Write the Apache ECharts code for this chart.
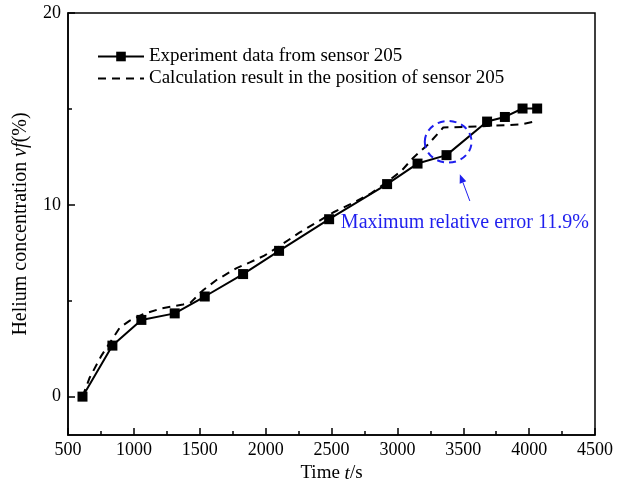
<!DOCTYPE html>
<html>
<head>
<meta charset="utf-8">
<script src="https://cdn.jsdelivr.net/npm/echarts@6/dist/echarts.min.js"></script>
<style>
html,body{margin:0;padding:0;background:#fff;}
#chart{width:617px;height:488px;}
</style>
</head>
<body>
<div id="chart"></div>
<script>
// ---- data ----
var expName = 'Experiment data from sensor 205';
var calcName = 'Calculation result in the position of sensor 205';
var expT = [610, 837, 1057, 1310, 1538, 1829, 2102, 2482, 2922, 3153, 3373, 3681, 3816, 3950, 4061];
var expV = [0, 2.66, 4.0, 4.34, 5.22, 6.39, 7.6, 9.25, 11.08, 12.15, 12.59, 14.34, 14.58, 15.02, 15.02];
var calcT = [610, 665, 754, 893, 969, 1070, 1209, 1373, 1430, 1525, 1627, 1780, 1880, 1990, 2107, 2259, 2386, 2512, 2664, 2800, 2922, 3031, 3121, 3235, 3348, 3499, 3650, 3816, 3943, 4050];
var calcV = [0, 1.0, 2.14, 3.6, 3.96, 4.3, 4.6, 4.8, 4.9, 5.55, 6.08, 6.7, 7.0, 7.35, 7.86, 8.56, 9.08, 9.6, 10.1, 10.6, 11.2, 11.77, 12.46, 13.16, 14.03, 14.06, 14.1, 14.15, 14.2, 14.35];
var yMajorTicks = [0, 10, 20];
var yMinorTicks = [5, 15];
var annotationText = 'Maximum relative error 11.9%';
// annotation anchors in data space
var ellipseBox = {t0: 3208, t1: 3563, v0: 12.2, v1: 14.37};
var arrowTail = [3550, 10.2];
var arrowHead = [3474, 11.6];
var textAnchor = [2571, 9.06];

function zip(a, b) { return a.map(function (x, i) { return [x, b[i]]; }); }
function plain(v) { return String(v); }

var FONT = 'Liberation Serif';
var chart = echarts.init(document.getElementById('chart'), null, {renderer: 'canvas'});
var option = {
  backgroundColor: '#fff',
  animation: false,
  textStyle: {fontFamily: FONT, color: '#000'},
  grid: {left: 68, right: 22, top: 13, bottom: 53, show: true, borderColor: '#000', borderWidth: 1.5, containLabel: false},
  legend: {
    left: 97, top: 47, padding: 0, orient: 'vertical', itemGap: 3,
    itemWidth: 46, itemHeight: 12,
    textStyle: {fontFamily: FONT, fontSize: 19, color: '#000'},
    data: [expName, {name: calcName, itemStyle: {opacity: 0}}]
  },
  xAxis: {
    type: 'value', min: 500, max: 4500, interval: 500,
    name: '{n|Time }{i|t}{n|/s}', nameLocation: 'middle', nameGap: 29,
    nameTextStyle: {rich: {n: {fontFamily: FONT, fontSize: 19, color: '#000'}, i: {fontFamily: FONT, fontSize: 19, fontStyle: 'italic', color: '#000'}}},
    axisLine: {onZero: false, lineStyle: {color: '#000', width: 1.5}},
    axisTick: {inside: true, length: 7, lineStyle: {color: '#000', width: 1.5}},
    minorTick: {show: true, splitNumber: 2, length: 4, lineStyle: {color: '#000', width: 1.5}},
    axisLabel: {fontFamily: FONT, fontSize: 18, color: '#000', margin: 6, formatter: plain},
    splitLine: {show: false}
  },
  yAxis: [{
    type: 'value', min: -2, max: 20,
    name: '{n|Helium concentration }{i|vf}{n|(%)}', nameLocation: 'middle', nameGap: 37,
    nameTextStyle: {rich: {n: {fontFamily: FONT, fontSize: 20, color: '#000'}, i: {fontFamily: FONT, fontSize: 20, fontStyle: 'italic', color: '#000'}}},
    axisLine: {onZero: false, lineStyle: {color: '#000', width: 1.5}},
    axisTick: {inside: true, length: 7, customValues: yMajorTicks, lineStyle: {color: '#000', width: 1.5}},
    axisLabel: {fontFamily: FONT, fontSize: 18, color: '#000', margin: 7, customValues: yMajorTicks, formatter: plain},
    splitLine: {show: false}
  }, {
    type: 'value', min: -2, max: 20, position: 'left',
    axisLine: {show: false, onZero: false},
    axisTick: {show: true, inside: true, length: 4, customValues: yMinorTicks, lineStyle: {color: '#000', width: 1.5}},
    axisLabel: {show: false},
    splitLine: {show: false}
  }],
  series: [{
    name: calcName, type: 'line', yAxisIndex: 0, data: zip(calcT, calcV),
    symbol: 'none', lineStyle: {color: '#000', width: 2, type: [8, 6]}, itemStyle: {color: '#000'}, z: 2
  }, {
    name: expName, type: 'line', yAxisIndex: 0, data: zip(expT, expV),
    symbol: 'rect', symbolSize: 10, showSymbol: true,
    lineStyle: {color: '#000', width: 2}, itemStyle: {color: '#000'}, z: 3
  }]
};
chart.setOption(option);

function px(p) { return chart.convertToPixel({gridIndex: 0}, p); }
var blue = '#1f1fee';
var a = px([ellipseBox.t0, ellipseBox.v1]);
var b = px([ellipseBox.t1, ellipseBox.v0]);
var tail = px(arrowTail), head = px(arrowHead);
var dx = head[0] - tail[0], dy = head[1] - tail[1];
var len = Math.sqrt(dx * dx + dy * dy), ux = dx / len, uy = dy / len;
var hl = 9, hw = 3.5;
var base = [head[0] - ux * hl, head[1] - uy * hl];
var tp = px(textAnchor);
chart.setOption({
  graphic: [
    {type: 'ellipse', shape: {cx: (a[0] + b[0]) / 2, cy: (a[1] + b[1]) / 2, rx: Math.abs(b[0] - a[0]) / 2, ry: Math.abs(b[1] - a[1]) / 2},
     style: {fill: 'none', stroke: blue, lineWidth: 2, lineDash: [7, 5]}, z: 10},
    {type: 'line', shape: {x1: tail[0], y1: tail[1], x2: base[0], y2: base[1]}, style: {stroke: blue, lineWidth: 1}, z: 10},
    {type: 'polygon', shape: {points: [head, [base[0] - uy * hw, base[1] + ux * hw], [base[0] + uy * hw, base[1] - ux * hw]]}, style: {fill: blue}, z: 10},
    {type: 'text', x: tp[0], y: tp[1], style: {text: annotationText, fill: blue, font: '20px "Liberation Serif"', textAlign: 'left', textVerticalAlign: 'middle'}, z: 10}
  ]
});
</script>
</body>
</html>
